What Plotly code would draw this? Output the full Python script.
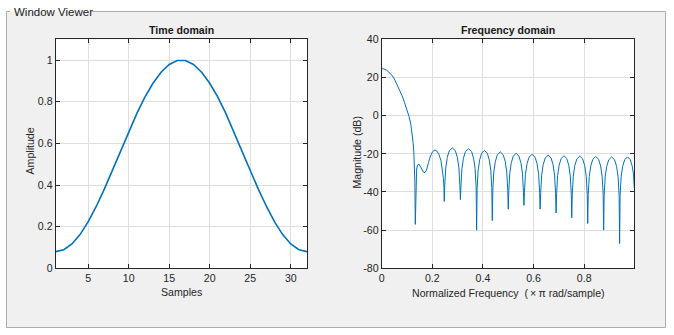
import plotly.graph_objects as go

# ── Time domain: 32-point window ────────────────────────────────────
SAMPLES = list(range(1, 33))
AMPLITUDE = [
    0.080, 0.089, 0.117, 0.162, 0.223, 0.297, 0.380, 0.470,
    0.563, 0.655, 0.743, 0.822, 0.889, 0.942, 0.979, 0.998,
    0.998, 0.979, 0.942, 0.889, 0.822, 0.743, 0.655, 0.563,
    0.470, 0.380, 0.297, 0.223, 0.162, 0.117, 0.089, 0.080,
]

# ── Frequency domain: magnitude (dB) ────────────────────────────────
FREQ = [
    0.000, 0.010, 0.020, 0.030, 0.040, 0.050, 0.060, 0.070, 0.080, 0.090,
    0.100, 0.108, 0.115, 0.120, 0.124, 0.127, 0.129, 0.131, 0.1328,
    0.1348, 0.138, 0.142, 0.147, 0.152, 0.158, 0.165, 0.171, 0.177, 0.185,
    0.193, 0.201, 0.210, 0.218, 0.226, 0.234, 0.240, 0.244, 0.246, 0.247,
    0.249, 0.253, 0.259, 0.267, 0.279, 0.291, 0.299, 0.305, 0.309, 0.311,
    0.313, 0.317, 0.323, 0.331, 0.343, 0.355, 0.363, 0.369, 0.373, 0.375,
    0.377, 0.381, 0.387, 0.395, 0.406, 0.417, 0.425, 0.431, 0.435, 0.437,
    0.439, 0.443, 0.449, 0.457, 0.4685, 0.480, 0.488, 0.494, 0.498, 0.500,
    0.502, 0.506, 0.512, 0.520, 0.531, 0.542, 0.550, 0.556, 0.560, 0.562,
    0.564, 0.568, 0.574, 0.582, 0.594, 0.606, 0.614, 0.620, 0.624, 0.626,
    0.628, 0.632, 0.638, 0.646, 0.6575, 0.669, 0.677, 0.683, 0.687, 0.689,
    0.691, 0.695, 0.701, 0.709, 0.720, 0.731, 0.739, 0.745, 0.749, 0.751,
    0.753, 0.757, 0.763, 0.771, 0.7825, 0.794, 0.802, 0.808, 0.812, 0.814,
    0.816, 0.820, 0.826, 0.834, 0.8455, 0.857, 0.865, 0.871, 0.875, 0.877,
    0.879, 0.883, 0.889, 0.897, 0.9085, 0.920, 0.928, 0.934, 0.938, 0.940,
    0.942, 0.946, 0.952, 0.960, 0.971, 0.982, 0.990, 0.995, 0.998,
]
MAG_DB = [
    24.6, 24.4, 23.8, 22.7, 21.2, 19.2, 16.6, 13.8, 10.6, 7.0,
    3.2, -0.5, -4.5, -9.0, -14.0, -19.0, -25.0, -35.0, -57.0,
    -35.0, -28.0, -25.8, -25.4, -26.5, -28.3, -29.6, -29.8, -28.5, -24.5,
    -21.0, -18.9, -18.0, -18.6, -20.3, -23.5, -28.0, -33.0, -38.0, -45.0,
    -36.9, -27.4, -21.9, -18.4, -16.9, -18.4, -21.9, -27.4, -36.9, -44.0,
    -37.3, -27.8, -22.3, -18.8, -17.3, -18.8, -22.3, -27.8, -37.3, -60.0,
    -38.2, -28.7, -23.2, -19.7, -18.2, -19.7, -23.2, -28.7, -38.2, -55.0,
    -39.0, -29.5, -24.0, -20.5, -19.0, -20.5, -24.0, -29.5, -39.0, -49.0,
    -39.7, -30.2, -24.7, -21.2, -19.7, -21.2, -24.7, -30.2, -39.7, -47.0,
    -40.3, -30.8, -25.3, -21.8, -20.3, -21.8, -25.3, -30.8, -40.3, -49.0,
    -40.7, -31.2, -25.7, -22.2, -20.7, -22.2, -25.7, -31.2, -40.7, -51.0,
    -41.0, -31.5, -26.0, -22.5, -21.0, -22.5, -26.0, -31.5, -41.0, -53.5,
    -41.2, -31.7, -26.2, -22.7, -21.2, -22.7, -26.2, -31.7, -41.2, -56.5,
    -41.4, -31.9, -26.4, -22.9, -21.4, -22.9, -26.4, -31.9, -41.4, -60.0,
    -41.6, -32.1, -26.6, -23.1, -21.6, -23.1, -26.6, -32.1, -41.6, -67.0,
    -41.6, -32.1, -26.6, -23.1, -21.6, -23.1, -26.6, -31.0, -38.0,
]

TIME_XTICKS = [5, 10, 15, 20, 25, 30]
TIME_YTICKS = [0, 0.2, 0.4, 0.6, 0.8, 1]
TIME_YLABELS = ['0', '0.2', '0.4', '0.6', '0.8', '1']
FREQ_XTICKS = [0, 0.2, 0.4, 0.6, 0.8]
FREQ_XLABELS = ['0', '0.2', '0.4', '0.6', '0.8']
FREQ_YTICKS = [-80, -60, -40, -20, 0, 20, 40]
FREQ_YLABELS = ['-80', '-60', '-40', '-20', '0', '20', '40']

W, H = 674, 335
LINE_BLUE = '#0072BD'
AX_COLOR = '#262626'
GRID = '#dedede'
FONT = 'Liberation Sans, Arial, sans-serif'
FS = 10.6

# plot-area pixel boxes (left, right, top, bottom)
L1, R1, L2, R2 = 55.7, 307, 381.7, 634.3
TOP, BOT = 39.3, 268.3

fig = go.Figure()

fig.add_trace(go.Scatter(
    x=SAMPLES, y=AMPLITUDE, mode='lines',
    line=dict(color=LINE_BLUE, width=1.6),
    xaxis='x', yaxis='y', showlegend=False,
))
fig.add_trace(go.Scatter(
    x=FREQ, y=MAG_DB, mode='lines',
    line=dict(color=LINE_BLUE, width=1),
    xaxis='x2', yaxis='y2', showlegend=False,
))


def px(x):
    return x / W


def py(y):
    return 1 - y / H


axis_common = dict(
    showline=True, linecolor=AX_COLOR, linewidth=1, mirror='ticks',
    ticks='inside', ticklen=4, tickcolor=AX_COLOR,
    showgrid=True, gridcolor=GRID, gridwidth=1, zeroline=False,
    tickfont=dict(family=FONT, size=FS, color=AX_COLOR),
    automargin=False, fixedrange=True,
)

fig.update_layout(
    width=W, height=H,
    margin=dict(l=0, r=0, t=0, b=0),
    paper_bgcolor='#f0f0f0',
    plot_bgcolor='white',
    font=dict(family=FONT, size=FS, color=AX_COLOR),
    xaxis=dict(domain=[px(L1), px(R1)], range=[1, 32],
               tickvals=TIME_XTICKS, anchor='y', **axis_common),
    yaxis=dict(domain=[py(BOT), py(TOP)], range=[0, 1.1],
               tickvals=TIME_YTICKS, ticktext=TIME_YLABELS, anchor='x', **axis_common),
    xaxis2=dict(domain=[px(L2), px(R2)], range=[0, 0.998],
                tickvals=FREQ_XTICKS, ticktext=FREQ_XLABELS, anchor='y2', **axis_common),
    yaxis2=dict(domain=[py(BOT), py(TOP)], range=[-80, 40],
                tickvals=FREQ_YTICKS, ticktext=FREQ_YLABELS, anchor='x2', **axis_common),
)

# ── group box (white outside, grey panel, border with caption gap) ──
shapes = []
white_strips = [(0, 0, W, 11.5), (0, 0, 6, H), (665.5, 0, W, H), (0, 327.5, W, H)]
for x0, y0, x1, y1 in white_strips:
    shapes.append(dict(type='rect', xref='paper', yref='paper',
                       x0=px(x0), x1=px(x1), y0=py(y1), y1=py(y0),
                       fillcolor='white', line=dict(width=0), layer='below'))
border = [(6.5, 11.5, 10, 11.5), (92, 11.5, 665.5, 11.5),
          (6.5, 11.5, 6.5, 327.5), (665.5, 11.5, 665.5, 327.5),
          (6.5, 327.5, 665.5, 327.5)]
for x0, y0, x1, y1 in border:
    shapes.append(dict(type='line', xref='paper', yref='paper',
                       x0=px(x0), x1=px(x1), y0=py(y0), y1=py(y1),
                       line=dict(color='#adadad', width=1), layer='below'))
fig.update_layout(shapes=shapes)


def label(text, x, y, angle=0, color=AX_COLOR):
    fig.add_annotation(text=text, xref='paper', yref='paper',
                       x=px(x), y=py(y), xanchor='center', yanchor='middle',
                       textangle=angle, showarrow=False,
                       font=dict(family=FONT, size=FS, color=color))


fig.add_annotation(text='Window Viewer', xref='paper', yref='paper',
                   x=px(11.5), y=py(12.5), xanchor='left', yanchor='middle',
                   showarrow=False, font=dict(family=FONT, size=11.5, color='#1a1a1a'))
label('<b>Time domain</b>', (L1 + R1) / 2, 30, color='#1a1a1a')
label('<b>Frequency domain</b>', (L2 + R2) / 2, 30, color='#1a1a1a')
label('Samples', (L1 + R1) / 2, 292)
label('Normalized Frequency  (\u2009×\u2009π rad/sample)', (L2 + R2) / 2, 292.5)
label('Amplitude', 29.5, 151, angle=-90)
label('Magnitude (dB)', 356.5, 153, angle=-90)

# page body margin would push the figure 8px right/down
fig.write_html("out.html", config={'displayModeBar': False},
               post_script="document.body.style.margin='0';"
                           "document.body.style.overflow='hidden';")
